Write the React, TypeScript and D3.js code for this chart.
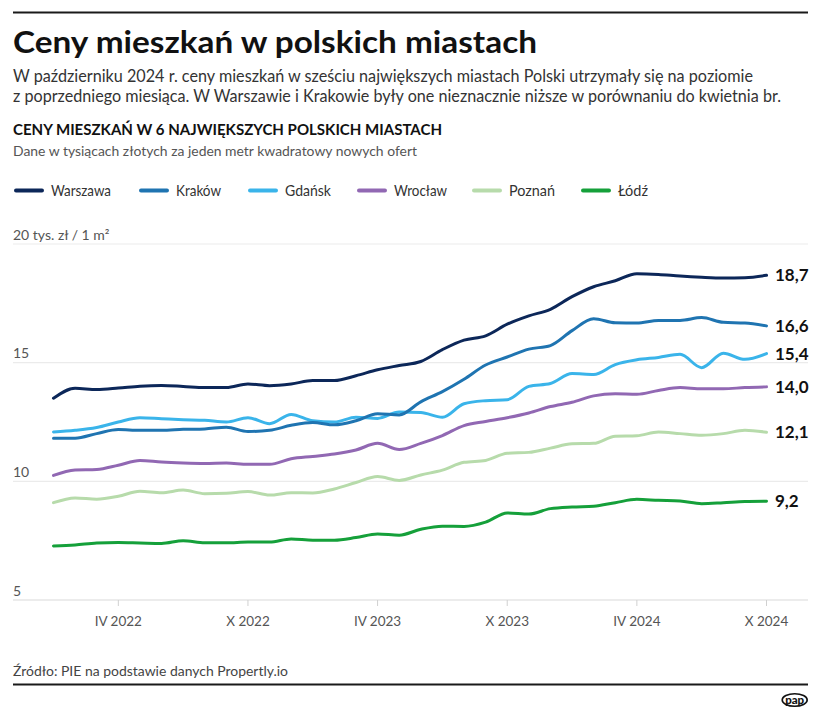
import React from "react";
import * as d3 from "d3";

const months = [
  "2022-01","2022-02","2022-03","2022-04","2022-05","2022-06","2022-07","2022-08","2022-09","2022-10","2022-11","2022-12",
  "2023-01","2023-02","2023-03","2023-04","2023-05","2023-06","2023-07","2023-08","2023-09","2023-10","2023-11","2023-12",
  "2024-01","2024-02","2024-03","2024-04","2024-05","2024-06","2024-07","2024-08","2024-09","2024-10",
];

const warszawa = [13.5,13.92,13.87,13.93,14.01,14.04,14.0,13.95,13.95,14.1,14.03,14.1,14.25,14.25,14.45,14.7,14.88,15.05,15.55,15.95,16.13,16.62,16.97,17.25,17.78,18.2,18.45,18.75,18.72,18.65,18.6,18.57,18.58,18.68];
const krakow = [11.82,11.82,12.01,12.18,12.15,12.15,12.19,12.21,12.28,12.1,12.15,12.36,12.48,12.38,12.55,12.85,12.8,13.35,13.78,14.3,14.9,15.24,15.57,15.72,16.35,16.85,16.68,16.67,16.78,16.78,16.9,16.7,16.67,16.55];
const gdansk = [12.08,12.15,12.27,12.5,12.68,12.64,12.6,12.57,12.5,12.68,12.43,12.82,12.55,12.5,12.7,12.65,12.92,12.9,12.7,13.27,13.4,13.44,14.0,14.12,14.54,14.5,14.92,15.12,15.22,15.35,14.79,15.4,15.14,15.38];
const wroclaw = [10.25,10.48,10.5,10.68,10.88,10.81,10.77,10.75,10.77,10.72,10.72,10.95,11.05,11.15,11.32,11.6,11.34,11.6,11.93,12.35,12.52,12.68,12.88,13.15,13.33,13.6,13.69,13.67,13.83,13.95,13.9,13.9,13.95,13.98];
const poznan = [9.1,9.3,9.25,9.37,9.58,9.52,9.63,9.48,9.5,9.57,9.42,9.52,9.51,9.68,9.95,10.2,10.04,10.27,10.47,10.8,10.88,11.18,11.22,11.4,11.58,11.6,11.9,11.92,12.08,12.01,11.94,12.01,12.15,12.07];
const lodz = [7.28,7.32,7.4,7.42,7.4,7.38,7.5,7.41,7.41,7.44,7.44,7.57,7.52,7.52,7.63,7.78,7.73,7.98,8.11,8.1,8.28,8.67,8.62,8.85,8.92,8.95,9.1,9.24,9.2,9.17,9.06,9.1,9.15,9.16];

const cityNames = ["Warszawa", "Kraków", "Gdańsk", "Wrocław", "Poznań", "Łódź"];
const endLabels = ["18,7", "16,6", "15,4", "14,0", "12,1", "9,2"];
const cityColors = ["#0c2759", "#1f74b1", "#3ab4ea", "#9168b3", "#b7dbab", "#15a03a"];
const seriesValues = [warszawa, krakow, gdansk, wroclaw, poznan, lodz];

const yTicks = [5, 10, 15, 20];
const yTickLabels = ["5", "10", "15", "20 tys. zł / 1 m²"];
const xTickMonths = ["2022-04", "2022-10", "2023-04", "2023-10", "2024-04", "2024-10"];
const xTickLabels = ["IV 2022", "X 2022", "IV 2023", "X 2023", "IV 2024", "X 2024"];

const FONT = "Lato, 'Noto Sans', sans-serif";

export default function App() {
  const W = 821;
  const H = 718;
  const left = 13;
  const right = 808;

  const x = d3.scaleLinear().domain([0, months.length - 1]).range([53.5, 766.5]);
  const y = d3.scaleLinear().domain([5, 20]).range([600, 244]);

  const line = d3
    .line<number>()
    .x((_, i) => x(i))
    .y((d) => y(d))
    .curve(d3.curveMonotoneX);

  const legendLabelX = [51, 176, 285, 394, 509, 618];
  const legendLabelW = [60, 45, 46, 53, 46, 30];

  return (
    <svg
      width={W}
      height={H}
      viewBox={`0 0 ${W} ${H}`}
      style={{ position: "absolute", left: 0, top: 0, background: "#fff", fontFamily: FONT }}
    >
      <rect x={0} y={0} width={W} height={H} fill="#fff" />
      <line x1={left} x2={right} y1={12.5} y2={12.5} stroke="#1a1a1a" strokeWidth={2} />

      <text x={left} y={53} fontSize={30} fontWeight={700} fill="#111" textLength={524} lengthAdjust="spacingAndGlyphs">
        Ceny mieszkań w polskich miastach
      </text>
      <text x={left} y={81.5} fontSize={16.5} fill="#333" textLength={740} lengthAdjust="spacingAndGlyphs">
        W październiku 2024 r. ceny mieszkań w sześciu największych miastach Polski utrzymały się na poziomie
      </text>
      <text x={left} y={101.5} fontSize={16.5} fill="#333" textLength={768} lengthAdjust="spacingAndGlyphs">
        z poprzedniego miesiąca. W Warszawie i Krakowie były one nieznacznie niższe w porównaniu do kwietnia br.
      </text>
      <text x={left} y={135} fontSize={14.5} fontWeight={700} fill="#111" textLength={429} lengthAdjust="spacingAndGlyphs">
        CENY MIESZKAŃ W 6 NAJWIĘKSZYCH POLSKICH MIASTACH
      </text>
      <text x={left} y={155.5} fontSize={14} fill="#555" textLength={404} lengthAdjust="spacingAndGlyphs">
        Dane w tysiącach złotych za jeden metr kwadratowy nowych ofert
      </text>

      {cityNames.map((name, i) => (
        <g key={name}>
          <line
            x1={legendLabelX[i] - 35}
            x2={legendLabelX[i] - 9}
            y1={190.5}
            y2={190.5}
            stroke={cityColors[i]}
            strokeWidth={4}
            strokeLinecap="round"
          />
          <text
            x={legendLabelX[i]}
            y={196}
            fontSize={15}
            fill="#333"
            textLength={legendLabelW[i]}
            lengthAdjust="spacingAndGlyphs"
          >
            {name}
          </text>
        </g>
      ))}

      {yTicks.map((t, i) => (
        <g key={t}>
          <line
            x1={left}
            x2={right}
            y1={y(t)}
            y2={y(t)}
            stroke={t === 5 ? "#dadada" : "#ebebeb"}
            strokeWidth={1.2}
          />
          <text x={left} y={y(t) - 4.5} fontSize={14} fill="#555">
            {yTickLabels[i]}
          </text>
        </g>
      ))}

      {xTickMonths.map((m, i) => {
        const xi = x(months.indexOf(m));
        return (
          <g key={m}>
            <line x1={xi} x2={xi} y1={600} y2={606} stroke="#d0d0d0" strokeWidth={1} />
            <text x={xi} y={626} fontSize={13.5} fill="#555" textAnchor="middle">
              {xTickLabels[i]}
            </text>
          </g>
        );
      })}

      {seriesValues
        .map((vals, i) => ({ vals, i }))
        .reverse()
        .map(({ vals, i }) => (
          <path
            key={cityNames[i]}
            d={line(vals) || ""}
            fill="none"
            stroke={cityColors[i]}
            strokeWidth={3}
            strokeLinecap="round"
            strokeLinejoin="round"
          />
        ))}

      {seriesValues.map((vals, i) => (
        <text
          key={cityNames[i]}
          x={775}
          y={y(vals[vals.length - 1])}
          dy="0.36em"
          fontSize={17}
          fontWeight={700}
          fill="#111"
        >
          {endLabels[i]}
        </text>
      ))}

      <text x={left} y={676} fontSize={14} fill="#444" textLength={275} lengthAdjust="spacingAndGlyphs">
        Źródło: PIE na podstawie danych Propertly.io
      </text>
      <line x1={left} x2={right} y1={684.5} y2={684.5} stroke="#1a1a1a" strokeWidth={2} />
      <ellipse cx={794.7} cy={700} rx={12.5} ry={6.3} fill="#fff" stroke="#111" strokeWidth={1.6} />
      <text
        x={794.7}
        y={703.5}
        fontSize={11}
        fontWeight={900}
        fill="#111"
        textAnchor="middle"
        textLength={19}
        lengthAdjust="spacingAndGlyphs"
      >
        pap
      </text>
    </svg>
  );
}
